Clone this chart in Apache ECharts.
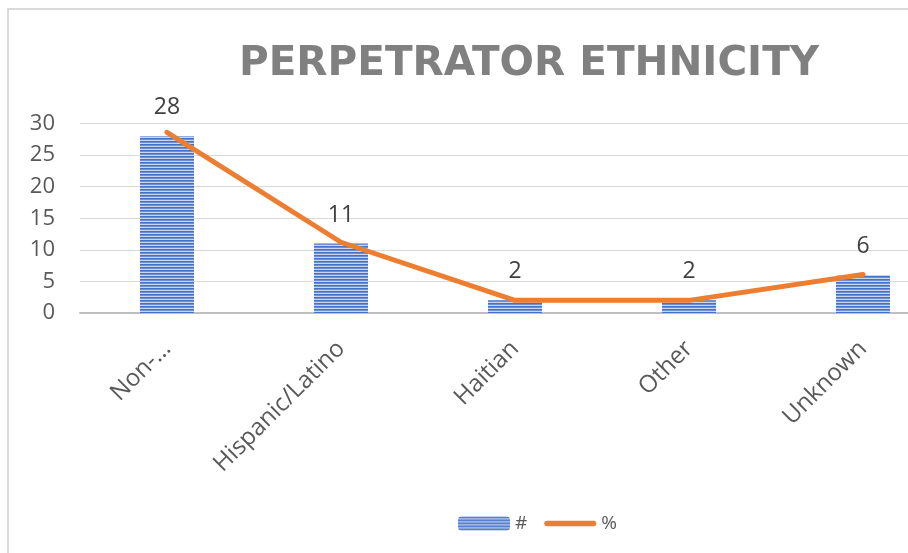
<!DOCTYPE html>
<html>
<head>
<meta charset="utf-8">
<script src="https://cdn.jsdelivr.net/npm/echarts@6/dist/echarts.min.js"></script>
<style>
  html, body { margin: 0; padding: 0; background: #fff; }
  #main { width: 908px; height: 553px; }
  #frame {
    position: absolute; left: 7px; top: 8px; width: 920px; height: 560px;
    border-left: 2px solid #d9d9d9; border-top: 2px solid #d9d9d9;
    pointer-events: none;
  }
</style>
</head>
<body>
<div id="main"></div>
<div id="frame"></div>
<script>
var categories = ['Non-…', 'Hispanic/Latino', 'Haitian', 'Other', 'Unknown'];
var countValues = [28, 11, 2, 2, 6];
var percentValues = [28.6, 11.2, 2.0, 2.0, 6.1];
var yTicks = [0, 5, 10, 15, 20, 25, 30];

// horizontal stripe fill for the bars
function stripes() {
  var c = document.createElement('canvas');
  c.width = 4; c.height = 3;
  var ctx = c.getContext('2d');
  ctx.fillStyle = '#4472c4'; ctx.fillRect(0, 0, 4, 1);
  ctx.fillStyle = '#6f8fd3'; ctx.fillRect(0, 1, 4, 1);
  ctx.fillStyle = '#c9d6f0'; ctx.fillRect(0, 2, 4, 1);
  return c;
}

var chart = echarts.init(document.getElementById('main'));
var gray = '#595959';

var option = {
  animation: false,
  textStyle: { fontFamily: 'Open Sans' },
  title: {
    text: 'PERPETRATOR ETHNICITY',
    left: 234,
    top: 39,
    textStyle: { fontSize: 40.5, fontWeight: 'bold', color: '#808080', fontFamily: 'DejaVu Sans' }
  },
  legend: {
    left: 453,
    top: 509,
    itemWidth: 52,
    itemHeight: 14,
    itemGap: 17,
    textStyle: { fontSize: 19, color: gray },
    data: [
      '#',
      // capsule so the line key has no marker dot
      { name: '%', icon: 'path://M2.75,0 L49.25,0 A2.75,2.75 0 0 1 49.25,5.5 L2.75,5.5 A2.75,2.75 0 0 1 2.75,0 Z' }
    ]
  },
  // plot area runs past the right edge of the picture (cropped original)
  grid: { left: 80, width: 870, top: 123.5, bottom: 240, containLabel: false, outerBoundsMode: 'none' },
  xAxis: {
    type: 'category',
    data: categories,
    axisLine: { lineStyle: { color: '#bfbfbf', width: 2 } },
    axisTick: { show: false },
    axisLabel: { rotate: 45, fontSize: 24, color: gray, margin: 32, interval: 0 }
  },
  yAxis: {
    type: 'value',
    min: yTicks[0],
    max: yTicks[yTicks.length - 1],
    interval: 5,
    axisLine: { show: false },
    axisTick: { show: false },
    splitLine: { lineStyle: { color: '#d9d9d9', width: 1 } },
    axisLabel: { fontSize: 22, color: gray, margin: 25 }
  },
  series: [
    {
      name: '#',
      type: 'bar',
      data: countValues,
      barWidth: 54,
      itemStyle: { color: { image: stripes(), repeat: 'repeat' } },
      label: { show: true, position: 'top', distance: 17, fontSize: 23, color: '#404040' }
    },
    {
      name: '%',
      type: 'line',
      data: percentValues,
      symbol: 'none',
      lineStyle: { color: '#ed7d31', width: 5, cap: 'round', join: 'round' },
      itemStyle: { color: '#ed7d31' }
    }
  ]
};

chart.setOption(option);
</script>
</body>
</html>
